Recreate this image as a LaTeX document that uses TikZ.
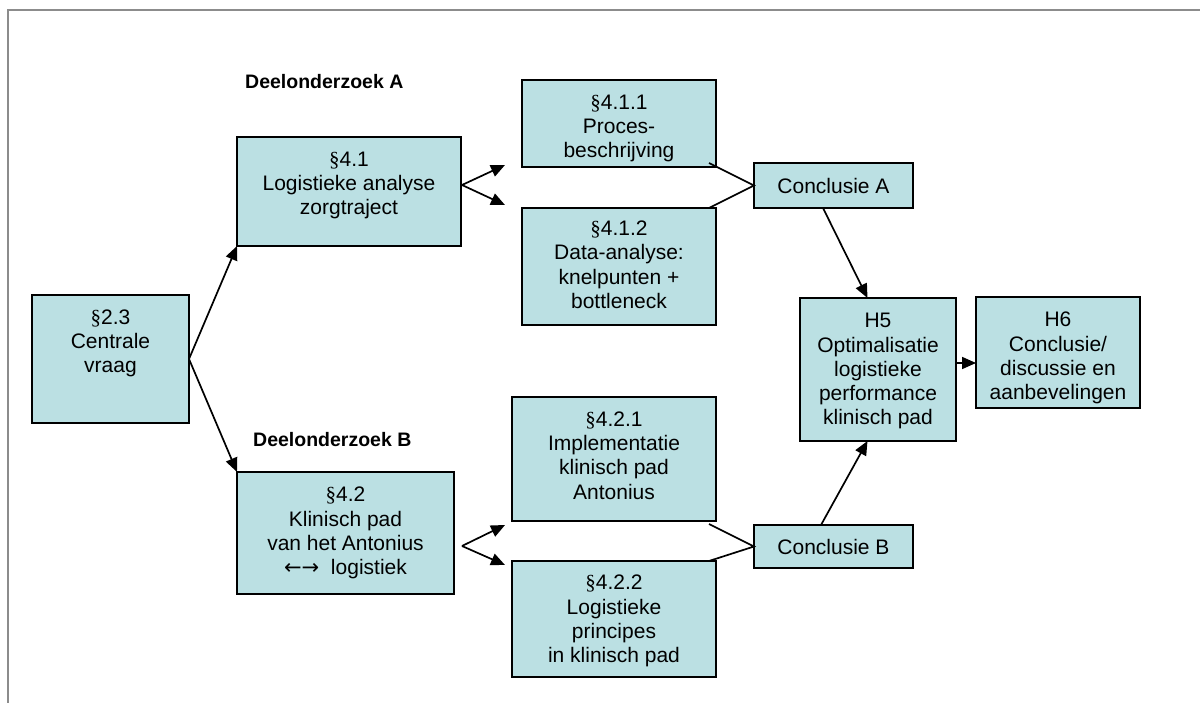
\documentclass[tikz,border=0pt]{standalone}
\usepackage{fontspec}
\setmainfont{Liberation Sans}
\newfontfamily\serifsym{Liberation Serif}
\newfontfamily\arrowsym{DejaVu Sans}
\usetikzlibrary{arrows.meta}
\definecolor{boxfill}{HTML}{BBE0E3}
\definecolor{framegray}{HTML}{8C8C8C}
\newcommand\psec{{\serifsym §}}
\begin{document}
\begin{tikzpicture}[x=1pt,y=-1pt,
  box/.style={draw=black, line width=1.8pt, fill=boxfill, rectangle,
    inner sep=0pt, outer sep=0pt, anchor=north west,
    font=\fontsize{21}{24.3}\selectfont},
  txt/.style={anchor=north, align=center, inner sep=0pt,
    font=\fontsize{21}{24.3}\selectfont},
  arr/.style={line width=1.7pt, -{Triangle[length=14pt,width=12pt]}},
  ln/.style={line width=1.7pt},
  lbl/.style={anchor=west, inner sep=0pt,
    font=\fontsize{19.5}{23}\selectfont\bfseries}]
\useasboundingbox (0,0) rectangle (1200,703);

% page frame
\draw[framegray, line width=2pt] (8,703) -- (8,10) -- (1200,10);

% boxes
\node[box, minimum width=157pt, minimum height=128pt] (c23) at (32,295) {};
\node[txt] at ([yshift=-13.5pt]c23.north) {\rule{0pt}{15.5pt}\psec2.3\\Centrale\\vraag};

\node[box, minimum width=224pt, minimum height=109pt] (s41) at (237,137) {};
\node[txt] at ([yshift=-13.5pt]s41.north) {\rule{0pt}{15.5pt}\psec4.1\\Logistieke analyse\\zorgtraject};

\node[box, minimum width=194pt, minimum height=87pt] (s411) at (522,80) {};
\node[txt] at ([yshift=-13.5pt]s411.north) {\rule{0pt}{15.5pt}\psec4.1.1\\Proces-\\beschrijving};

\node[box, minimum width=194pt, minimum height=117pt] (s412) at (522,208) {};
\node[txt] at ([yshift=-12pt]s412.north) {\rule{0pt}{15.5pt}\psec4.1.2\\Data-analyse:\\knelpunten +\\bottleneck};

\node[box, minimum width=159pt, minimum height=45pt] (ca) at (754,163) {Conclusie A};

\node[box, minimum width=217pt, minimum height=122pt] (s42) at (237,472) {};
\node[txt] at ([yshift=-14pt]s42.north) {\rule{0pt}{15.5pt}\psec4.2\\Klinisch pad\\van het Antonius\\{\arrowsym ←→}\ \ logistiek};

\node[box, minimum width=204pt, minimum height=124pt] (s421) at (512,397) {};
\node[txt] at ([yshift=-13.5pt]s421.north) {\rule{0pt}{15.5pt}\psec4.2.1\\Implementatie\\klinisch pad\\Antonius};

\node[box, minimum width=204pt, minimum height=116pt] (s422) at (512,561) {};
\node[txt] at ([yshift=-13pt]s422.north) {\rule{0pt}{15.5pt}\psec4.2.2\\Logistieke\\principes\\in klinisch pad};

\node[box, minimum width=159pt, minimum height=43pt] (cb) at (754,525) {Conclusie B};

\node[box, minimum width=156pt, minimum height=143pt] (h5) at (800,298) {};
\node[txt] at ([yshift=-14pt]h5.north) {\rule{0pt}{15.5pt}H5\\Optimalisatie\\logistieke\\performance\\klinisch pad};

\node[box, minimum width=164pt, minimum height=111pt] (h6) at (976,297) {};
\node[txt] at ([yshift=-14pt]h6.north) {\rule{0pt}{15.5pt}H6\\Conclusie/\\discussie en\\aanbevelingen};

% section labels
\node[lbl] (la) at (245,82) {Deelonderzoek A};
\node[lbl] (lb) at (253,440) {Deelonderzoek B};

% branching points and free arrow ends
\coordinate (v1) at (462,185);
\coordinate (t1) at (505,165);
\coordinate (t2) at (505,205);
\coordinate (v2) at (462,546);
\coordinate (t3) at (505,525);
\coordinate (t4) at (505,565);

% connectors
\draw[arr] (c23.east) -- (s41.south west);
\draw[arr] (c23.east) -- (s42.north west);

\draw[arr] (v1) -- (t1);
\draw[arr] (v1) -- (t2);
\draw[arr] (v2) -- (t3);
\draw[arr] (v2) -- (t4);

\draw[ln] ([xshift=-7pt,yshift=4pt]s411.south east) -- (ca.west) -- ([xshift=-7pt]s412.north east);
\draw[ln] ([xshift=-7pt,yshift=-3pt]s421.south east) -- (cb.west) -- ([xshift=-7pt]s422.north east);

\draw[arr] ([xshift=-10.5pt]ca.south) -- ([xshift=-10.5pt]h5.north);
\draw[arr] ([xshift=-12.5pt]cb.north) -- ([xshift=-10.5pt]h5.south);
\draw[arr] (h5.east |- 0,363) -- (h6.west |- 0,363);
\end{tikzpicture}
\end{document}
